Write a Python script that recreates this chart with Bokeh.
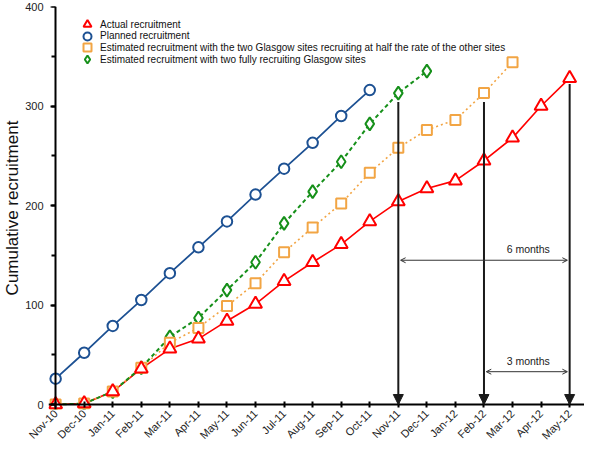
import math
from bokeh.plotting import figure
from bokeh.models import (FixedTicker, SingleIntervalTicker, Legend, LegendItem, LinearAxis,
                          Arrow, NormalHead, OpenHead, Range1d)
from bokeh.core.properties import value
from bokeh.embed import file_html
from bokeh.resources import INLINE

months = ["Nov-10", "Dec-10", "Jan-11", "Feb-11", "Mar-11", "Apr-11", "May-11", "Jun-11",
          "Jul-11", "Aug-11", "Sep-11", "Oct-11", "Nov-11", "Dec-11", "Jan-12", "Feb-12",
          "Mar-12", "Apr-12", "May-12"]

actual = [0, 1, 13, 36, 56, 66, 84, 101, 124, 143, 161, 184, 204, 217, 225, 245, 268, 300, 328]
planned = [26, 52, 79, 105, 132, 158, 184, 211, 237, 263, 290, 316]
half_rate = [0, 1, 13, 37, 62, 77, 99, 122, 153, 178, 202, 233, 258, 276, 286, 313, 344]
full_rate = [0, 1, 13, 37, 68, 87, 115, 143, 182, 214, 244, 282, 313, 335]

arrow_months = ["Nov-11", "Feb-12", "May-12"]
arrow_tops = [304, 304, 322]

span_labels = ["6 months", "3 months"]
span_starts = ["Nov-11", "Feb-12"]
span_ends = ["May-12", "May-12"]
span_levels = [145, 33]
span_label_levels = [156, 44]

legend_labels = [
    "Actual recruitment",
    "Planned recruitment",
    "Estimated recruitment with the two Glasgow sites recruiting at half the rate of the other sites",
    "Estimated recruitment with two fully recruiting Glasgow sites",
]

FONT = "Liberation Sans"
BLUE = "#1d5193"
RED = "#ff0000"
ORANGE = "#f2a544"
GREEN = "#16901a"

idx = {m: i for i, m in enumerate(months)}

p = figure(width=584, height=448, output_backend="svg", toolbar_location=None,
           x_range=Range1d(-0.25, 18.52), y_range=Range1d(-5, 400),
           min_border_top=6, min_border_right=0, min_border_left=38, min_border_bottom=30)
p.outline_line_color = None
p.xgrid.visible = False
p.ygrid.visible = False

def xs(n):
    return list(range(n))

p.line(xs(len(actual)), actual, line_color=RED, line_width=1.6)
p.line(xs(len(planned)), planned, line_color=BLUE, line_width=1.8)
p.line(xs(len(half_rate)), half_rate, line_color=ORANGE, line_width=1.6, line_dash="2 3")
p.line(xs(len(full_rate)), full_rate, line_color=GREEN, line_width=2, line_dash="4 3")

r_full = p.scatter(xs(len(full_rate)), full_rate, marker="diamond", size=13, line_color=GREEN,
                   line_width=2, fill_color="white")
r_half = p.scatter(xs(len(half_rate)), half_rate, marker="square", size=10, line_color=ORANGE,
                   line_width=2, fill_color="white")
r_plan = p.scatter(xs(len(planned)), planned, marker="circle", size=10.5, line_color=BLUE,
                   line_width=2, fill_color="white")
r_act = p.scatter(xs(len(actual)), actual, marker="triangle", size=13, line_color=RED,
                  line_width=2, fill_color="white")

for m, top in zip(arrow_months, arrow_tops):
    p.add_layout(Arrow(x_start=idx[m], y_start=top, x_end=idx[m], y_end=0,
                       line_color="#1a1a1a", line_width=2,
                       end=NormalHead(size=10, fill_color="#1a1a1a", line_color="#1a1a1a")))

for lab, s, e, lv, tl in zip(span_labels, span_starts, span_ends, span_levels, span_label_levels):
    p.add_layout(Arrow(x_start=idx[s] + 0.08, y_start=lv, x_end=idx[e] - 0.08, y_end=lv,
                       line_color="#333333", line_width=1,
                       start=OpenHead(size=5, line_color="#333333", line_width=1),
                       end=OpenHead(size=5, line_color="#333333", line_width=1)))
    p.text(x=[idx[e] - 1.45], y=[tl], text=[lab],
           text_font=value(FONT), text_font_size="10.5px", text_color="#222222",
           text_align="center", text_baseline="middle")

x_ticks = list(range(len(months)))
y_ticker = SingleIntervalTicker(interval=100, num_minor_ticks=2)

p.xaxis.ticker = FixedTicker(ticks=x_ticks)
p.xaxis.major_label_overrides = {i: m for i, m in enumerate(months)}
p.xaxis.major_label_orientation = math.pi / 4
p.xaxis.major_label_standoff = 2
p.xaxis.major_tick_out = 0
p.xaxis.major_tick_in = 0
p.xaxis.axis_line_color = None
p.xaxis.major_tick_line_color = None
p.xaxis.minor_tick_line_color = None

p.yaxis.ticker = y_ticker
p.yaxis.major_label_standoff = 1
p.yaxis.major_tick_out = 0
p.yaxis.major_tick_in = 0
p.yaxis.axis_line_color = None
p.yaxis.major_tick_line_color = None
p.yaxis.minor_tick_line_color = None
p.yaxis.axis_label = "Cumulative recruitment"
p.yaxis.axis_label_text_font = FONT
p.yaxis.axis_label_text_font_size = "17px"
p.yaxis.axis_label_text_font_style = "normal"
p.yaxis.axis_label_text_color = "#111111"
p.yaxis.axis_label_standoff = 0

for ax in (p.xaxis[0], p.yaxis[0]):
    ax.major_label_text_font = FONT
    ax.major_label_text_font_size = "11px"
    ax.major_label_text_color = "#222222"

x_line = LinearAxis(ticker=FixedTicker(ticks=x_ticks), fixed_location=0,
                    major_label_text_color=None, major_label_standoff=0,
                    major_tick_in=3, major_tick_out=3,
                    axis_line_width=2, major_tick_line_width=2, minor_tick_line_color=None,
                    axis_line_color="black", major_tick_line_color="black")
y_line = LinearAxis(ticker=y_ticker, fixed_location=0,
                    major_label_text_color=None, major_label_standoff=0,
                    major_tick_in=0, major_tick_out=5,
                    minor_tick_in=0, minor_tick_out=4, axis_line_width=2,
                    major_tick_line_width=2, minor_tick_line_width=2,
                    axis_line_color="black", major_tick_line_color="black",
                    minor_tick_line_color="black")
p.add_layout(x_line, "below")
p.add_layout(y_line, "left")

for i, (lab, rend) in enumerate(zip(legend_labels, [r_act, r_plan, r_half, r_full])):
    lg = Legend(items=[LegendItem(label=lab, renderers=[rend])],
                location=(29, 375 - 11.7 * i), margin=0, padding=0,
                glyph_width=20, glyph_height=20, label_standoff=3, label_height=12,
                label_text_font=FONT, label_text_font_size="10px", label_text_color="#111111",
                border_line_color=None, background_fill_alpha=0)
    p.add_layout(lg)

open("out.html", "w").write(file_html(p, INLINE))
